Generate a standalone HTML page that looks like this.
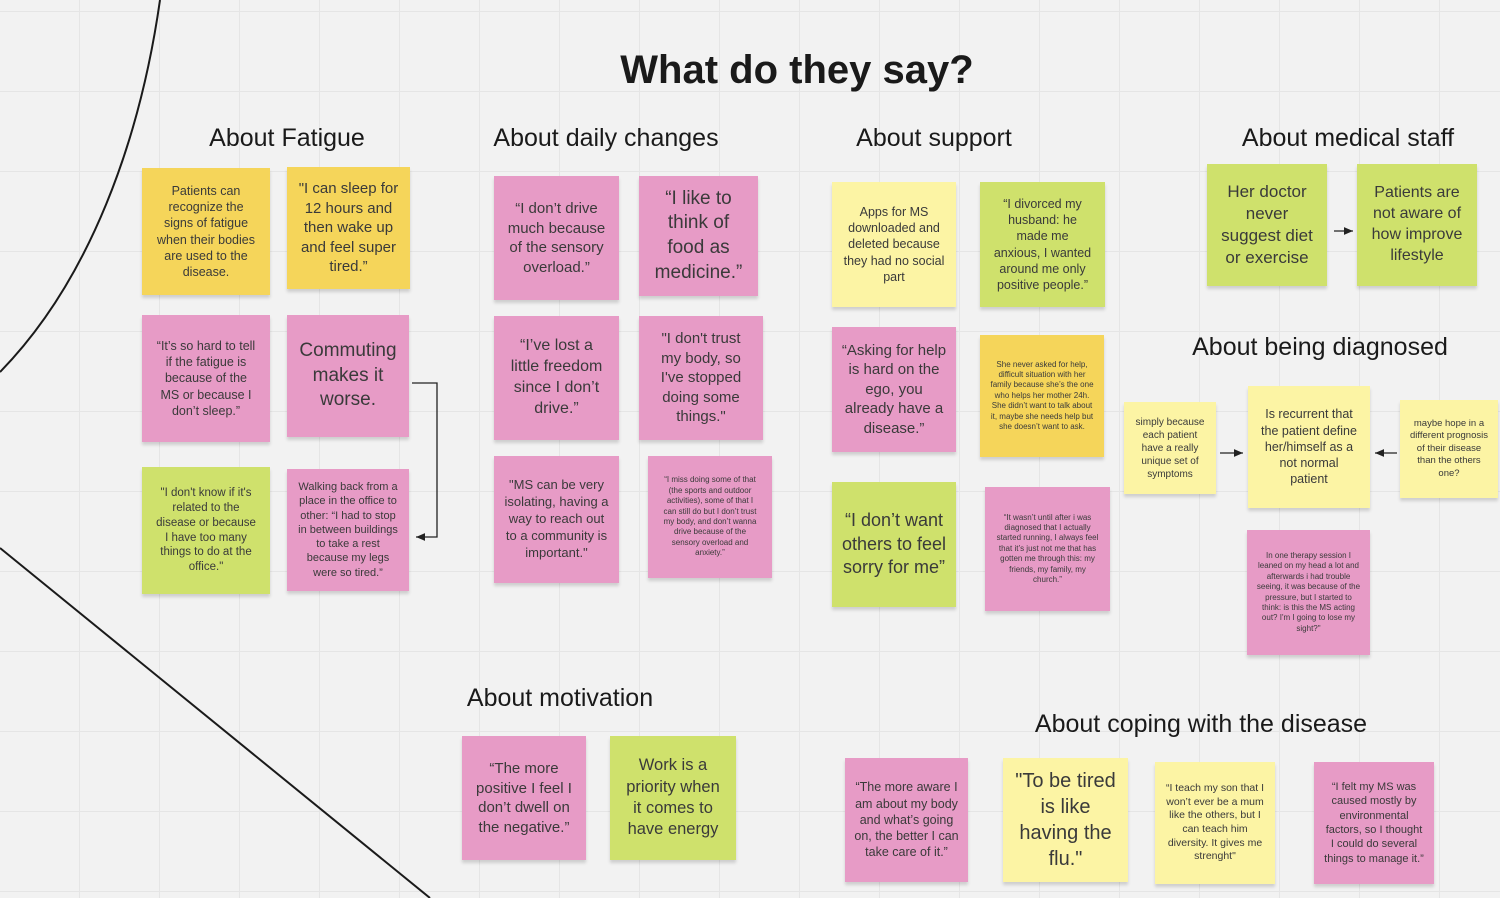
<!DOCTYPE html>
<html><head><meta charset="utf-8"><style>
body{margin:0;width:1500px;height:898px;overflow:hidden;background:#f2f2f2;
background-image:linear-gradient(#e5e5e5 1px,transparent 1px),linear-gradient(90deg,#e5e5e5 1px,transparent 1px);
background-size:80px 80px;background-position:79px 11px;font-family:"Liberation Sans",sans-serif;position:relative}
.t{position:absolute;transform:translateX(-50%);white-space:nowrap;color:#1a1a1a;font-size:25px}
.n{position:absolute;display:flex;align-items:center;justify-content:center;text-align:center;color:#3a3a3a;box-sizing:border-box;padding:6px 9px;line-height:1.3;box-shadow:0 3px 3px rgba(0,0,0,.15)}
.y{background:#f5d55a}.p{background:#e79bc6}.g{background:#cfe16c}.l{background:#fcf4a4}
svg{position:absolute;left:0;top:0}
</style></head><body>
<svg width="1500" height="898">
<defs><marker id="a" markerWidth="8" markerHeight="8" refX="7" refY="4" orient="auto"><path d="M0,1 L7,4 L0,7 z" fill="#222"/></marker></defs>
<path d="M160,0 C140,140 90,280 0,372" stroke="#1a1a1a" stroke-width="2" fill="none"/>
<path d="M0,548 L430,898" stroke="#1a1a1a" stroke-width="2" fill="none"/>
<path d="M412,383 H437 V537 H416" stroke="#222" stroke-width="1.3" fill="none" marker-end="url(#a)"/>
<path d="M1334,231 H1353" stroke="#222" stroke-width="1.3" marker-end="url(#a)"/>
<path d="M1220,453 H1243" stroke="#222" stroke-width="1.3" marker-end="url(#a)"/>
<path d="M1397,453 H1375" stroke="#222" stroke-width="1.3" marker-end="url(#a)"/>
</svg>
<div class="t" style="left:797px;top:48px;font-size:40px;font-weight:bold">What do they say?</div>
<div class="t" style="left:287px;top:124px">About Fatigue</div>
<div class="t" style="left:606px;top:124px">About daily changes</div>
<div class="t" style="left:934px;top:124px">About support</div>
<div class="t" style="left:1348px;top:124px">About medical staff</div>
<div class="t" style="left:1320px;top:333px">About being diagnosed</div>
<div class="t" style="left:560px;top:684px">About motivation</div>
<div class="t" style="left:1201px;top:710px">About coping with the disease</div>

<div class="n y" style="left:142px;top:168px;width:128px;height:127px;font-size:12.5px;padding:6px 12px">Patients can recognize the signs of fatigue when their bodies are used to the disease.</div>
<div class="n y" style="left:287px;top:167px;width:123px;height:122px;font-size:15px">"I can sleep for 12 hours and then wake up and feel super tired.”</div>
<div class="n p" style="left:142px;top:315px;width:128px;height:127px;font-size:12.5px;padding:6px 12px">“It’s so hard to tell if the fatigue is because of the MS or because I don’t sleep.”</div>
<div class="n p" style="left:287px;top:315px;width:122px;height:122px;font-size:19px">Commuting makes it worse.</div>
<div class="n g" style="left:142px;top:467px;width:128px;height:127px;font-size:11.5px;padding:6px 12px">"I don't know if it's related to the disease or because I have too many things to do at the office."</div>
<div class="n p" style="left:287px;top:469px;width:122px;height:122px;font-size:11px;padding:6px 8px">Walking back from a place in the office to other: “I had to stop in between buildings to take a rest because my legs were so tired.”</div>

<div class="n p" style="left:494px;top:176px;width:125px;height:124px;font-size:15px">“I don’t drive much because of the sensory overload.”</div>
<div class="n p" style="left:639px;top:176px;width:119px;height:120px;font-size:19px">“I like to think of food as medicine.”</div>
<div class="n p" style="left:494px;top:316px;width:125px;height:124px;font-size:16px;padding:6px 12px">“I’ve lost a little freedom since I don’t drive.”</div>
<div class="n p" style="left:639px;top:316px;width:124px;height:124px;font-size:15px;padding:6px 14px">"I don't trust my body, so I've stopped doing some things."</div>
<div class="n p" style="left:494px;top:456px;width:125px;height:127px;font-size:13px">"MS can be very isolating, having a way to reach out to a community is important."</div>
<div class="n p" style="left:648px;top:456px;width:124px;height:122px;font-size:8px;padding:6px 12px">“I miss doing some of that (the sports and outdoor activities), some of that I can still do but I don’t trust my body, and don’t wanna drive because of the sensory overload and anxiety.”</div>

<div class="n l" style="left:832px;top:182px;width:124px;height:125px;font-size:12.5px">Apps for MS downloaded and deleted because they had no social part</div>
<div class="n g" style="left:980px;top:182px;width:125px;height:125px;font-size:12.5px;padding:6px 12px">“I divorced my husband: he made me anxious, I wanted around me only positive people.”</div>
<div class="n p" style="left:832px;top:327px;width:124px;height:125px;font-size:15px">“Asking for help is hard on the ego, you already have a disease.”</div>
<div class="n y" style="left:980px;top:335px;width:124px;height:122px;font-size:8px;padding:6px 10px">She never asked for help, difficult situation with her family because she’s the one who helps her mother 24h. She didn’t want to talk about it, maybe she needs help but she doesn’t want to ask.</div>
<div class="n g" style="left:832px;top:482px;width:124px;height:125px;font-size:18px">“I don’t want others to feel sorry for me”</div>
<div class="n p" style="left:985px;top:487px;width:125px;height:124px;font-size:8px;padding:6px 10px">“It wasn’t until after i was diagnosed that I actually started running, I always feel that it’s just not me that has gotten me through this: my friends, my family, my church.”</div>

<div class="n g" style="left:1207px;top:164px;width:120px;height:122px;font-size:17px">Her doctor never suggest diet or exercise</div>
<div class="n g" style="left:1357px;top:164px;width:120px;height:122px;font-size:16px">Patients are not aware of how improve lifestyle</div>

<div class="n l" style="left:1124px;top:402px;width:92px;height:92px;font-size:10px;padding:4px 7px">simply because each patient have a really unique set of symptoms</div>
<div class="n l" style="left:1248px;top:386px;width:122px;height:122px;font-size:12.5px;padding:6px 11px">Is recurrent that the patient define her/himself as a not normal patient</div>
<div class="n l" style="left:1400px;top:400px;width:98px;height:98px;font-size:9.5px;padding:4px 7px">maybe hope in a different prognosis of their disease than the others one?</div>
<div class="n p" style="left:1247px;top:530px;width:123px;height:125px;font-size:8px;padding:6px 9px">In one therapy session I leaned on my head a lot and afterwards i had trouble seeing, it was because of the pressure, but I started to think: is this the MS acting out? I'm I going to lose my sight?"</div>

<div class="n p" style="left:462px;top:736px;width:124px;height:124px;font-size:15px">“The more positive I feel I don’t dwell on the negative.”</div>
<div class="n g" style="left:610px;top:736px;width:126px;height:124px;font-size:16.5px;padding:6px 12px">Work is a priority when it comes to have energy</div>

<div class="n p" style="left:845px;top:758px;width:123px;height:124px;font-size:12.5px">“The more aware I am about my body and what’s going on, the better I can take care of it.”</div>
<div class="n l" style="left:1003px;top:758px;width:125px;height:124px;font-size:20px">"To be tired is like having the flu."</div>
<div class="n l" style="left:1155px;top:762px;width:120px;height:122px;font-size:10.5px">“I teach my son that I won’t ever be a mum like the others, but I can teach him diversity. It gives me strenght"</div>
<div class="n p" style="left:1314px;top:762px;width:120px;height:122px;font-size:11px">“I felt my MS was caused mostly by environmental factors, so I thought I could do several things to manage it.”</div>
</body></html>
